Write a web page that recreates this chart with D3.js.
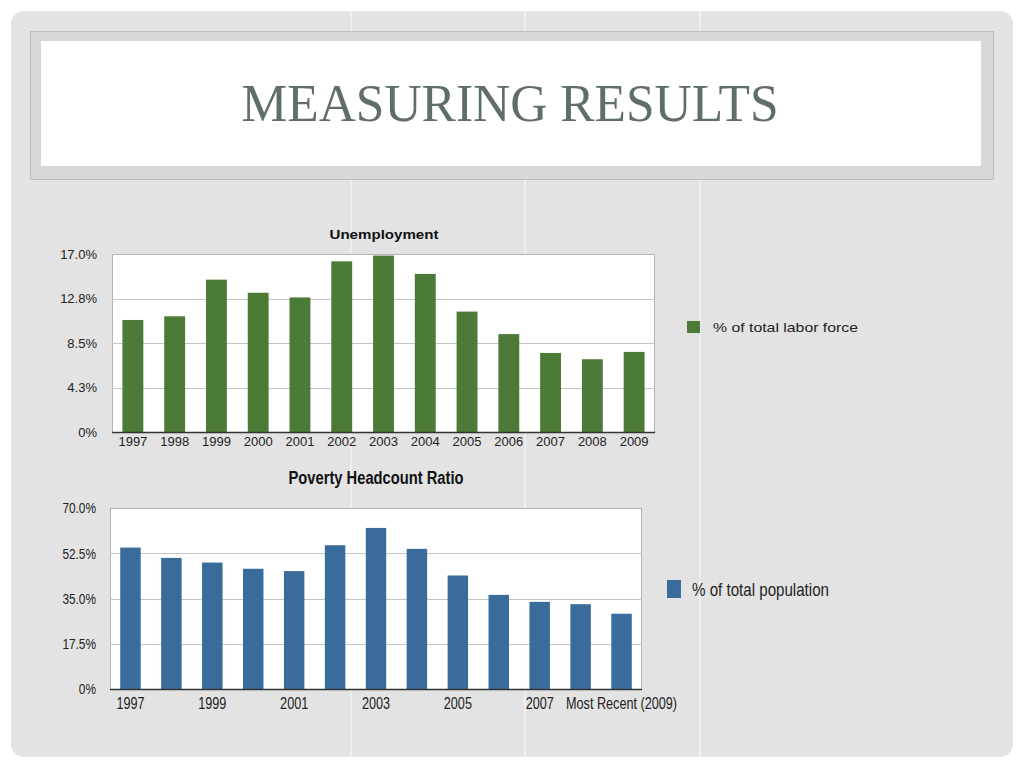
<!DOCTYPE html>
<html>
<head>
<meta charset="utf-8">
<script src="https://cdn.jsdelivr.net/npm/d3@7"></script>
<style>
  body { margin: 0; background: #fff; }
  text { font-family: "Liberation Sans", Arial, sans-serif; }
</style>
</head>
<body>
<div id="slide"></div>
<script>
// unemployment chart
const unempYears = ["1997", "1998", "1999", "2000", "2001", "2002", "2003", "2004", "2005", "2006", "2007", "2008", "2009"]
const unempValues = [10.7, 11.05, 14.55, 13.3, 12.85, 16.3, 16.85, 15.1, 11.5, 9.35, 7.55, 6.95, 7.65]
const unempTicks = [0, 4.25, 8.5, 12.75, 17]
const unempTickLabels = ["0%", "4.3%", "8.5%", "12.8%", "17.0%"]

// poverty chart
const povCategories = ["1997", "1998", "1999", "2000", "2001", "2002", "2003", "2004", "2005", "2006", "2007", "2008", "Most Recent (2009)"]
const povValues = [54.7, 50.7, 48.9, 46.5, 45.6, 55.6, 62.3, 54.2, 43.9, 36.4, 33.7, 32.8, 29.1]
const povTicks = [0, 17.5, 35, 52.5, 70]
const povTickLabels = ["0%", "17.5%", "35.0%", "52.5%", "70.0%"]
const povShownLabels = ["1997", "1999", "2001", "2003", "2005", "2007", "Most Recent (2009)"]

const svg = d3.select("#slide").append("svg")
    .attr("width", 1024)
    .attr("height", 768)

// slide background + faint vertical lines
svg.append("rect")
    .attr("x", 11).attr("y", 11)
    .attr("width", 1002).attr("height", 746)
    .attr("rx", 13)
    .attr("fill", "#e3e3e3")

svg.selectAll(".vline")
    .data([351, 525, 700]).enter()
    .append("line")
    .attr("class", "vline")
    .attr("x1", d => d).attr("x2", d => d)
    .attr("y1", 11).attr("y2", 757)
    .attr("stroke", "#f6f6f6")
    .attr("stroke-width", 1.2)

// title box
svg.append("rect")
    .attr("x", 30.5).attr("y", 31.5)
    .attr("width", 963).attr("height", 148)
    .attr("fill", "#d8d8d8")
    .attr("stroke", "#bcbcbc")
svg.append("rect")
    .attr("x", 41).attr("y", 41)
    .attr("width", 940).attr("height", 125)
    .attr("fill", "#fff")

svg.append("text")
    .attr("x", 510).attr("y", 121)
    .attr("text-anchor", "middle")
    .style("font-family", "'Liberation Serif', 'DejaVu Serif', serif")
    .attr("font-size", 52)
    .attr("fill", "#5f6f66")
    .attr("textLength", 537)
    .attr("lengthAdjust", "spacingAndGlyphs")
    .text("MEASURING RESULTS")

// squeeze text horizontally (the lower chart uses a narrow face)
function squeeze(sel, k) {
    if (k === 1) return
    sel.each(function() {
        const w = this.getComputedTextLength()
        if (w > 0) {
            d3.select(this)
                .attr("textLength", w * k)
                .attr("lengthAdjust", "spacingAndGlyphs")
        }
    })
}

function drawBars(opts) {
    const g = svg.append("g")

    const x = d3.scaleBand()
        .domain(opts.categories)
        .range([opts.left, opts.right])
        .paddingInner(0.5)
        .paddingOuter(0.25)

    const y = d3.scaleLinear()
        .domain([0, opts.ticks[opts.ticks.length - 1]])
        .range([opts.bottom, opts.top])

    // plot background
    g.append("rect")
        .attr("x", opts.left + 0.5).attr("y", opts.top + 0.5)
        .attr("width", opts.right - opts.left - 1)
        .attr("height", opts.bottom - opts.top)
        .attr("fill", "#fff")
        .attr("stroke", "#b4b4b4")

    // gridlines
    g.selectAll(".grid")
        .data(opts.ticks.slice(1, -1)).enter()
        .append("line")
        .attr("x1", opts.left).attr("x2", opts.right)
        .attr("y1", d => Math.round(y(d)) + 0.5)
        .attr("y2", d => Math.round(y(d)) + 0.5)
        .attr("stroke", "#c4c4c4")

    g.selectAll(".bar")
        .data(opts.values).enter()
        .append("rect")
        .attr("x", (d, i) => x(opts.categories[i]))
        .attr("y", d => y(d))
        .attr("width", x.bandwidth())
        .attr("height", d => y(0) - y(d))
        .attr("fill", opts.color)

    // y axis labels
    const yAxis = d3.axisLeft(y)
        .tickValues(opts.ticks)
        .tickFormat((d, i) => opts.tickLabels[i])
        .tickSize(0)
        .tickPadding(opts.left - opts.labelEnd)

    const ya = g.append("g")
        .attr("transform", "translate(" + opts.left + ",0)")
        .call(yAxis)
    ya.select(".domain").remove()
    ya.selectAll("text")
        .attr("font-size", opts.fontSize)
        .attr("fill", "#222")
    squeeze(ya.selectAll("text"), opts.squeeze)

    // x axis
    const xAxis = d3.axisBottom(x)
        .tickSize(0)
        .tickPadding(opts.xPad)
        .tickFormat(d => opts.shown.indexOf(d) >= 0 ? d : "")

    const xa = g.append("g")
        .attr("transform", "translate(0," + opts.bottom + ")")
        .call(xAxis)
    xa.select(".domain")
        .attr("d", "M" + opts.left + ",0.5H" + opts.right)
        .attr("stroke", "#333")
        .attr("stroke-width", 1.5)
    xa.selectAll("text")
        .attr("font-size", opts.xFontSize)
        .attr("fill", "#222")
    squeeze(xa.selectAll("text"), opts.squeeze)

    // title
    svg.append("text")
        .attr("x", opts.titleX).attr("y", opts.titleY)
        .attr("text-anchor", "middle")
        .attr("font-size", opts.titleSize)
        .attr("font-weight", "bold")
        .attr("fill", "#111")
        .attr("textLength", opts.titleWidth)
        .attr("lengthAdjust", "spacingAndGlyphs")
        .text(opts.title)

    // legend
    svg.append("rect")
        .attr("x", opts.legend.x).attr("y", opts.legend.y)
        .attr("width", opts.legend.w).attr("height", opts.legend.h)
        .attr("fill", opts.color)
    svg.append("text")
        .attr("x", opts.legend.tx).attr("y", opts.legend.ty)
        .attr("font-size", opts.legend.size)
        .attr("fill", "#222")
        .attr("textLength", opts.legend.tw)
        .attr("lengthAdjust", "spacingAndGlyphs")
        .text(opts.legend.text)
}

drawBars({
    categories: unempYears, values: unempValues,
    ticks: unempTicks, tickLabels: unempTickLabels, shown: unempYears,
    left: 112, right: 655, top: 254, bottom: 432,
    labelEnd: 97, fontSize: 13, xFontSize: 13, xPad: 5, squeeze: 1,
    color: "#4b7b36",
    title: "Unemployment", titleX: 384, titleY: 239, titleSize: 13.5, titleWidth: 109,
    legend: {x: 687, y: 321, w: 13, h: 12, tx: 713, ty: 332, size: 13.5, tw: 145, text: "% of total labor force"}
})

drawBars({
    categories: povCategories, values: povValues,
    ticks: povTicks, tickLabels: povTickLabels, shown: povShownLabels,
    left: 110, right: 642, top: 508, bottom: 689,
    labelEnd: 96, fontSize: 15, xFontSize: 16, xPad: 9, squeeze: 0.79,
    color: "#3a6c9b",
    title: "Poverty Headcount Ratio", titleX: 376, titleY: 484, titleSize: 18, titleWidth: 175,
    legend: {x: 667, y: 580, w: 14, h: 18, tx: 692, ty: 596, size: 18.5, tw: 137, text: "% of total population"}
})
</script>
</body>
</html>
